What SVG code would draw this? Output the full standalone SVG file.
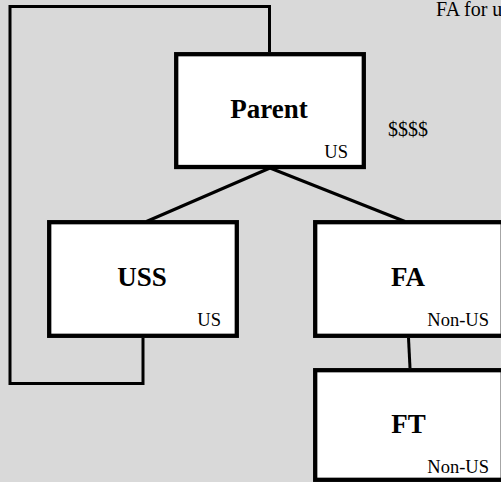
<svg xmlns="http://www.w3.org/2000/svg" width="501" height="482" viewBox="0 0 501 482">
<style>
.box{fill:#ffffff;stroke:#000000;stroke-width:4.3}
.conn{fill:none;stroke:#000000;stroke-width:3}
.title{font-family:"Liberation Serif","Times New Roman",serif;font-weight:bold;font-size:27px;text-anchor:middle;fill:#000}
.tag{font-family:"Liberation Serif","Times New Roman",serif;font-size:18.5px;text-anchor:end;fill:#000}
.note{font-family:"Liberation Serif","Times New Roman",serif;font-size:20px;fill:#000}
</style>
<rect x="0" y="0" width="501" height="482" fill="#d9d9d9"/>
<g id="connectors">
<path class="conn" d="M143 338 V383.5 H10 V6.5 H269.5 V52"/>
<path class="conn" d="M270 168 L146.5 221.5"/>
<path class="conn" d="M270 168 L405 221.5"/>
<path class="conn" d="M408.5 338 L410 368"/>
</g>
<g id="parent">
<rect class="box" x="176.2" y="54.2" width="187.6" height="112.8"/>
<text class="title" x="269" y="117.5">Parent</text>
<text class="tag" x="348" y="158">US</text>
</g>
<g id="uss">
<rect class="box" x="49.2" y="222.2" width="187.6" height="113.6"/>
<text class="title" x="142" y="286">USS</text>
<text class="tag" x="221" y="326">US</text>
</g>
<g id="fa">
<rect class="box" x="315.2" y="222.2" width="187.6" height="113.6"/>
<text class="title" x="408" y="286">FA</text>
<text class="tag" x="489" y="326">Non-US</text>
</g>
<g id="ft">
<rect class="box" x="315.2" y="370.2" width="187.6" height="109.6"/>
<text class="title" x="408.5" y="433">FT</text>
<text class="tag" x="489" y="473">Non-US</text>
</g>
<g id="notes">
<text class="note" x="388" y="136">$$$$</text>
<text class="note" x="436" y="16">FA for u</text>
</g>
</svg>
